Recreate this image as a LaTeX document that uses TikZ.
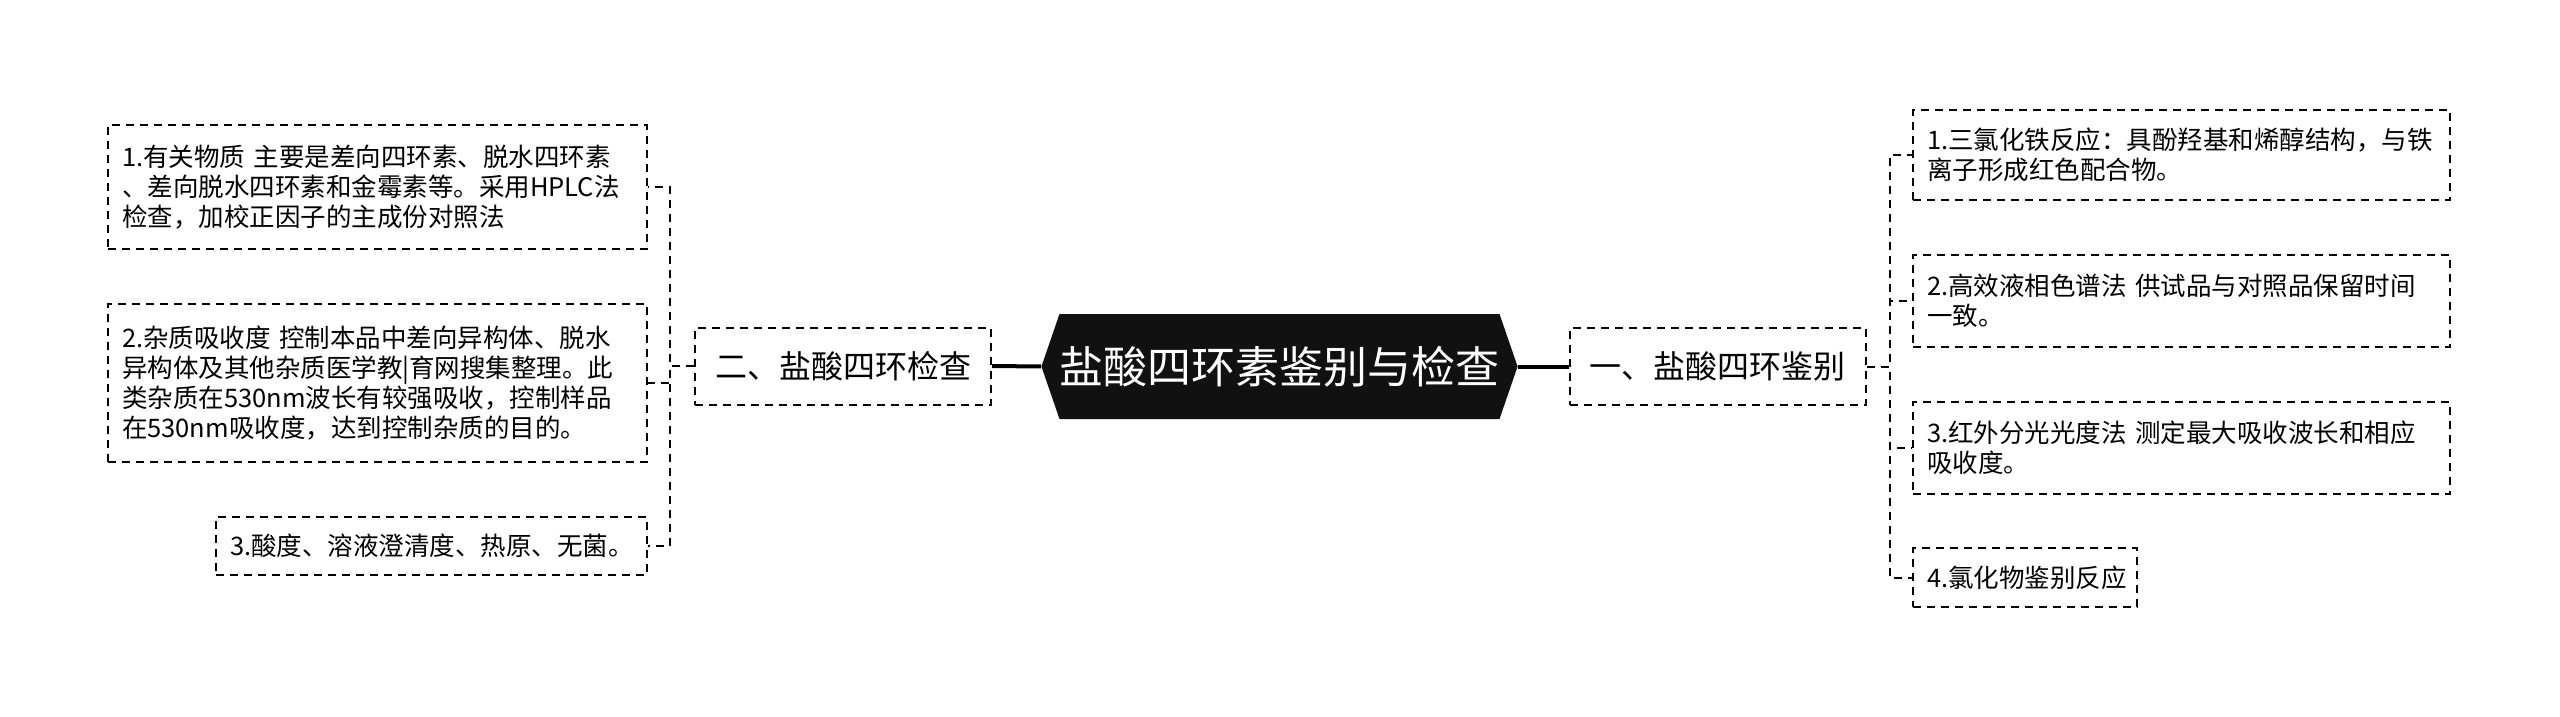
\documentclass[tikz,border=0pt]{standalone}
\usepackage{fontspec}
\setmainfont{Noto Sans CJK SC}
\usetikzlibrary{shapes.symbols}

\definecolor{rootfill}{HTML}{111111}

\tikzset{
  leaf/.style={rectangle,draw,line width=1pt,dash pattern=on 4pt off 3pt,
    inner xsep=7pt,inner ysep=0pt,align=left,
    font=\fontsize{12.75pt}{15pt}\selectfont},
  branch/.style={rectangle,draw,line width=1pt,dash pattern=on 4pt off 3pt,
    inner sep=0pt,minimum width=148pt,minimum height=38.5pt,
    font=\fontsize{16pt}{19pt}\selectfont},
  link/.style={draw,line width=1pt,dash pattern=on 4pt off 3pt},
  bracket/.style={to path={-- ++(#1,0) |- (\tikztotarget)}},
}

\begin{document}
\begin{tikzpicture}[x=0.5pt,y=-0.5pt]
  \useasboundingbox (0,0) rectangle (2560,717);

  % root
  \node[signal,signal to=east and west,signal pointer angle=142,
        fill=rootfill,text=white,inner sep=0pt,
        minimum width=230pt,minimum height=52.5pt,
        font=\fontsize{22pt}{26pt}\selectfont] (root) at (1279.5,366.5) {盐酸四环素鉴别与检查};

  % branches
  \begin{scope}[every node/.style={branch}]
    \node (check) at (843,366)    {二、盐酸四环检查};
    \node (ident) at (1717.5,366.5) {一、盐酸四环鉴别};
  \end{scope}

  % left leaves
  \begin{scope}[every node/.style={leaf,text width=255.5pt}]
    \node[minimum height=62pt] (c1) at (377.5,187) {1.有关物质 主要是差向四环素、脱水四环素\\、差向脱水四环素和金霉素等。采用HPLC法\\检查，加校正因子的主成份对照法};
    \node[minimum height=79pt] (c2) at (377.5,383) {2.杂质吸收度 控制本品中差向异构体、脱水\\异构体及其他杂质医学教|育网搜集整理。此\\类杂质在530nm波长有较强吸收，控制样品\\在530nm吸收度，达到控制杂质的目的。};
    \node[minimum height=29pt,text width=201.5pt] (c3) at (431.5,546) {3.酸度、溶液澄清度、热原、无菌。};
  \end{scope}

  % right leaves
  \begin{scope}[every node/.style={leaf,text width=254.5pt}]
    \node[minimum height=45pt] (i1) at (2181.5,155) {1.三氯化铁反应：具酚羟基和烯醇结构，与铁\\离子形成红色配合物。};
    \node[minimum height=46pt] (i2) at (2181.5,301) {2.高效液相色谱法 供试品与对照品保留时间\\一致。};
    \node[minimum height=46pt] (i3) at (2181.5,448) {3.红外分光光度法 测定最大吸收波长和相应\\吸收度。};
    \node[minimum height=29.5pt,text width=98pt] (i4) at (2025,577.5) {4.氯化物鉴别反应};
  \end{scope}

  % connectors
  \draw[line width=2pt] (check.east) -- (root.west);
  \draw[line width=2pt] (root.east) -- (ident.west);

  \begin{scope}[every edge/.style={link}]
    \path (check.west) edge[bracket=-24] (c1.east);
    \path (check.west) edge[bracket=-24] (c2.east);
    \path (check.west) edge[bracket=-24] (c3.east);
    \path (ident.east) edge[bracket=23] (i1.west);
    \path (ident.east) edge[bracket=23] (i2.west);
    \path (ident.east) edge[bracket=23] (i3.west);
    \path (ident.east) edge[bracket=23] (i4.west);
  \end{scope}

\end{tikzpicture}
\end{document}
